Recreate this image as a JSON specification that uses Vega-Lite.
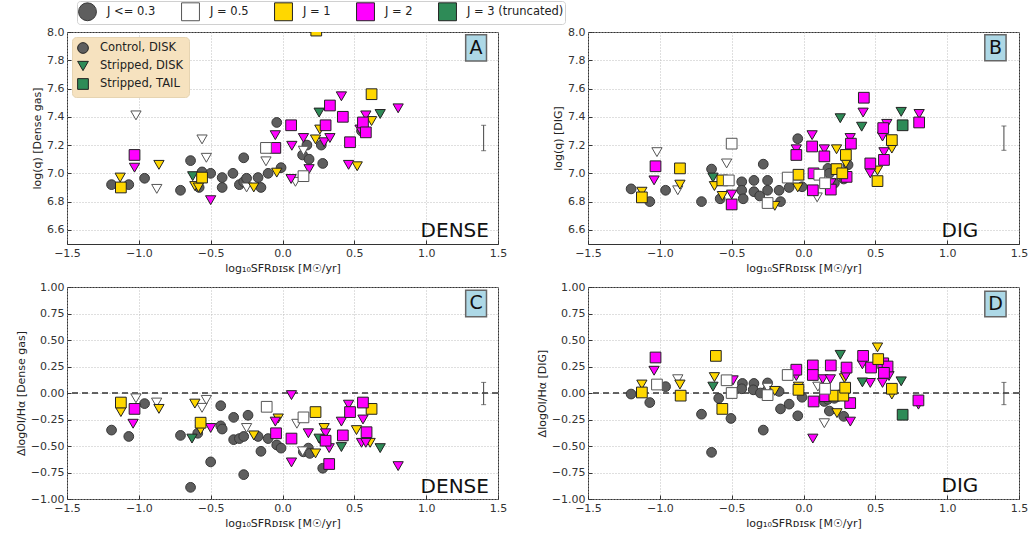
{
"$schema": "https://vega.github.io/schema/vega-lite/v6.json",
"padding": {"left": 14, "top": 0, "right": 5, "bottom": 2},
"datasets": {
"pts": [
{"p":"A","g":"c","j":0.3,"x":-1.19,"y":6.92},{"p":"A","g":"c","j":0.3,"x":-1.07,"y":6.92},{"p":"A","g":"c","j":0.3,"x":-0.96,"y":6.965},{"p":"A","g":"c","j":0.3,"x":-0.71,"y":6.88},{"p":"A","g":"c","j":0.3,"x":-0.64,"y":7.09},{"p":"A","g":"c","j":0.3,"x":-0.58,"y":6.9},{"p":"A","g":"c","j":0.3,"x":-0.56,"y":7.01},{"p":"A","g":"c","j":0.3,"x":-0.5,"y":7.0},{"p":"A","g":"c","j":0.3,"x":-0.42,"y":6.97},{"p":"A","g":"c","j":0.3,"x":-0.42,"y":6.9},{"p":"A","g":"c","j":0.3,"x":-0.345,"y":7.0},{"p":"A","g":"c","j":0.3,"x":-0.3,"y":6.92},{"p":"A","g":"c","j":0.3,"x":-0.27,"y":7.11},{"p":"A","g":"c","j":0.3,"x":-0.27,"y":6.94},{"p":"A","g":"c","j":0.3,"x":-0.25,"y":6.965},{"p":"A","g":"c","j":0.3,"x":-0.17,"y":6.97},{"p":"A","g":"c","j":0.3,"x":-0.15,"y":6.9},{"p":"A","g":"c","j":0.3,"x":-0.1,"y":7.0},{"p":"A","g":"c","j":0.3,"x":-0.04,"y":7.36},{"p":"A","g":"c","j":0.3,"x":-0.01,"y":7.04},{"p":"A","g":"c","j":0.3,"x":0.14,"y":7.13},{"p":"A","g":"c","j":0.3,"x":0.17,"y":7.2},{"p":"A","g":"c","j":0.3,"x":0.185,"y":7.1},{"p":"A","g":"c","j":0.3,"x":0.27,"y":7.2},{"p":"A","g":"c","j":0.3,"x":0.28,"y":7.07},{"p":"A","g":"c","j":0.3,"x":0.55,"y":7.3},
{"p":"A","g":"d","j":0.5,"x":-1.02,"y":7.41},{"p":"A","g":"d","j":0.5,"x":-0.875,"y":6.89},{"p":"A","g":"d","j":0.5,"x":-0.56,"y":7.24},{"p":"A","g":"d","j":0.5,"x":-0.53,"y":7.11},{"p":"A","g":"d","j":0.5,"x":-0.25,"y":6.9},{"p":"A","g":"d","j":0.5,"x":-0.115,"y":7.085},{"p":"A","g":"d","j":0.5,"x":0.09,"y":6.94},{"p":"A","g":"d","j":0.5,"x":0.146,"y":7.16},
{"p":"A","g":"d","j":1,"x":-1.13,"y":6.97},{"p":"A","g":"d","j":1,"x":-0.86,"y":7.06},{"p":"A","g":"d","j":1,"x":-0.61,"y":6.91},{"p":"A","g":"d","j":1,"x":-0.585,"y":6.9},{"p":"A","g":"d","j":1,"x":-0.2,"y":6.9},{"p":"A","g":"d","j":1,"x":-0.04,"y":7.005},{"p":"A","g":"d","j":1,"x":0.23,"y":7.24},{"p":"A","g":"d","j":1,"x":0.26,"y":7.31},{"p":"A","g":"d","j":1,"x":0.52,"y":7.05},{"p":"A","g":"d","j":1,"x":0.62,"y":7.37},
{"p":"A","g":"d","j":2,"x":-1.03,"y":7.04},{"p":"A","g":"d","j":2,"x":-0.5,"y":6.81},{"p":"A","g":"d","j":2,"x":-0.05,"y":7.27},{"p":"A","g":"d","j":2,"x":0.065,"y":7.195},{"p":"A","g":"d","j":2,"x":0.06,"y":6.96},{"p":"A","g":"d","j":2,"x":0.146,"y":7.25},{"p":"A","g":"d","j":2,"x":0.185,"y":7.03},{"p":"A","g":"d","j":2,"x":0.29,"y":7.22},{"p":"A","g":"d","j":2,"x":0.33,"y":7.25},{"p":"A","g":"d","j":2,"x":0.41,"y":7.545},{"p":"A","g":"d","j":2,"x":0.46,"y":7.06},{"p":"A","g":"d","j":2,"x":0.54,"y":7.31},{"p":"A","g":"d","j":2,"x":0.58,"y":7.41},{"p":"A","g":"d","j":2,"x":0.805,"y":7.46},
{"p":"A","g":"d","j":3,"x":-0.625,"y":6.98},{"p":"A","g":"d","j":3,"x":0.255,"y":7.43},{"p":"A","g":"d","j":3,"x":0.68,"y":7.42},
{"p":"A","g":"t","j":1,"x":-1.125,"y":6.9},{"p":"A","g":"t","j":1,"x":-0.56,"y":6.97},{"p":"A","g":"t","j":1,"x":0.235,"y":8.01},{"p":"A","g":"t","j":1,"x":0.62,"y":7.56},
{"p":"A","g":"t","j":2,"x":-1.03,"y":7.13},{"p":"A","g":"t","j":2,"x":-0.05,"y":7.18},{"p":"A","g":"t","j":2,"x":0.06,"y":7.34},{"p":"A","g":"t","j":2,"x":0.3,"y":7.34},{"p":"A","g":"t","j":2,"x":0.33,"y":7.48},{"p":"A","g":"t","j":2,"x":0.42,"y":7.4},{"p":"A","g":"t","j":2,"x":0.47,"y":7.22},{"p":"A","g":"t","j":2,"x":0.56,"y":7.36},{"p":"A","g":"t","j":2,"x":0.58,"y":7.29},
{"p":"A","g":"t","j":0.5,"x":-0.115,"y":7.18},{"p":"A","g":"t","j":0.5,"x":0.146,"y":6.98},

{"p":"B","g":"c","j":0.3,"x":-1.2,"y":6.89},{"p":"B","g":"c","j":0.3,"x":-1.07,"y":6.8},{"p":"B","g":"c","j":0.3,"x":-0.96,"y":6.88},{"p":"B","g":"c","j":0.3,"x":-0.71,"y":6.8},{"p":"B","g":"c","j":0.3,"x":-0.64,"y":7.03},{"p":"B","g":"c","j":0.3,"x":-0.58,"y":6.82},{"p":"B","g":"c","j":0.3,"x":-0.43,"y":6.94},{"p":"B","g":"c","j":0.3,"x":-0.43,"y":6.88},{"p":"B","g":"c","j":0.3,"x":-0.42,"y":6.82},{"p":"B","g":"c","j":0.3,"x":-0.345,"y":6.95},{"p":"B","g":"c","j":0.3,"x":-0.345,"y":6.87},{"p":"B","g":"c","j":0.3,"x":-0.28,"y":7.065},{"p":"B","g":"c","j":0.3,"x":-0.305,"y":6.84},{"p":"B","g":"c","j":0.3,"x":-0.25,"y":6.95},{"p":"B","g":"c","j":0.3,"x":-0.25,"y":6.88},{"p":"B","g":"c","j":0.3,"x":-0.17,"y":6.88},{"p":"B","g":"c","j":0.3,"x":-0.16,"y":6.8},{"p":"B","g":"c","j":0.3,"x":-0.1,"y":6.9},{"p":"B","g":"c","j":0.3,"x":-0.04,"y":7.245},{"p":"B","g":"c","j":0.3,"x":-0.01,"y":6.905},{"p":"B","g":"c","j":0.3,"x":0.17,"y":7.035},{"p":"B","g":"c","j":0.3,"x":0.18,"y":7.0},{"p":"B","g":"c","j":0.3,"x":0.215,"y":6.93},{"p":"B","g":"c","j":0.3,"x":0.28,"y":6.96},{"p":"B","g":"c","j":0.3,"x":0.31,"y":7.06},
{"p":"B","g":"d","j":0.5,"x":-1.02,"y":7.15},{"p":"B","g":"d","j":0.5,"x":-0.875,"y":6.88},{"p":"B","g":"d","j":0.5,"x":-0.535,"y":7.07},{"p":"B","g":"d","j":0.5,"x":0.095,"y":6.83},
{"p":"B","g":"d","j":1,"x":-1.125,"y":6.87},{"p":"B","g":"d","j":1,"x":-0.86,"y":6.92},{"p":"B","g":"d","j":1,"x":-0.62,"y":6.91},{"p":"B","g":"d","j":1,"x":-0.565,"y":6.84},{"p":"B","g":"d","j":1,"x":-0.2,"y":6.77},{"p":"B","g":"d","j":1,"x":-0.04,"y":6.9},{"p":"B","g":"d","j":1,"x":0.23,"y":7.17},{"p":"B","g":"d","j":1,"x":0.295,"y":7.07},{"p":"B","g":"d","j":1,"x":0.515,"y":7.02},{"p":"B","g":"d","j":1,"x":0.615,"y":7.175},
{"p":"B","g":"d","j":2,"x":-1.04,"y":6.95},{"p":"B","g":"d","j":2,"x":-0.5,"y":6.85},{"p":"B","g":"d","j":2,"x":-0.05,"y":7.17},{"p":"B","g":"d","j":2,"x":0.06,"y":7.27},{"p":"B","g":"d","j":2,"x":0.145,"y":7.17},{"p":"B","g":"d","j":2,"x":0.19,"y":6.93},{"p":"B","g":"d","j":2,"x":0.325,"y":7.25},{"p":"B","g":"d","j":2,"x":0.415,"y":7.43},{"p":"B","g":"d","j":2,"x":0.465,"y":7.0},{"p":"B","g":"d","j":2,"x":0.55,"y":7.26},{"p":"B","g":"d","j":2,"x":0.56,"y":7.15},{"p":"B","g":"d","j":2,"x":0.58,"y":7.35},{"p":"B","g":"d","j":2,"x":0.805,"y":7.42},
{"p":"B","g":"d","j":3,"x":-0.63,"y":6.97},{"p":"B","g":"d","j":3,"x":0.256,"y":7.39},{"p":"B","g":"d","j":3,"x":0.405,"y":7.33},{"p":"B","g":"d","j":3,"x":0.68,"y":7.435},
{"p":"B","g":"t","j":2,"x":-1.03,"y":7.05},{"p":"B","g":"t","j":2,"x":-0.5,"y":6.78},{"p":"B","g":"t","j":2,"x":-0.05,"y":7.13},{"p":"B","g":"t","j":2,"x":0.06,"y":7.19},{"p":"B","g":"t","j":2,"x":0.065,"y":6.88},{"p":"B","g":"t","j":2,"x":0.07,"y":7.0},{"p":"B","g":"t","j":2,"x":0.145,"y":7.12},{"p":"B","g":"t","j":2,"x":0.19,"y":6.885},{"p":"B","g":"t","j":2,"x":0.3,"y":6.975},{"p":"B","g":"t","j":2,"x":0.33,"y":7.21},{"p":"B","g":"t","j":2,"x":0.42,"y":7.535},{"p":"B","g":"t","j":2,"x":0.465,"y":7.07},{"p":"B","g":"t","j":2,"x":0.555,"y":7.32},{"p":"B","g":"t","j":2,"x":0.56,"y":7.095},{"p":"B","g":"t","j":2,"x":0.805,"y":7.36},
{"p":"B","g":"t","j":1,"x":-1.125,"y":6.83},{"p":"B","g":"t","j":1,"x":-0.86,"y":7.035},{"p":"B","g":"t","j":1,"x":-0.565,"y":6.95},{"p":"B","g":"t","j":1,"x":-0.035,"y":6.99},{"p":"B","g":"t","j":1,"x":0.23,"y":7.03},{"p":"B","g":"t","j":1,"x":0.27,"y":7.0},{"p":"B","g":"t","j":1,"x":0.295,"y":7.13},{"p":"B","g":"t","j":1,"x":0.515,"y":6.945},{"p":"B","g":"t","j":1,"x":0.615,"y":7.235},
{"p":"B","g":"t","j":0.5,"x":-0.5,"y":7.21},{"p":"B","g":"t","j":0.5,"x":-0.52,"y":6.95},{"p":"B","g":"t","j":0.5,"x":-0.25,"y":6.79},{"p":"B","g":"t","j":0.5,"x":-0.11,"y":6.97},{"p":"B","g":"t","j":0.5,"x":0.11,"y":6.99},{"p":"B","g":"t","j":0.5,"x":0.15,"y":6.93},
{"p":"B","g":"t","j":3,"x":0.69,"y":7.34},

{"p":"C","g":"c","j":0.3,"x":-1.19,"y":-0.35},{"p":"C","g":"c","j":0.3,"x":-1.07,"y":-0.41},{"p":"C","g":"c","j":0.3,"x":-0.96,"y":-0.1},{"p":"C","g":"c","j":0.3,"x":-0.71,"y":-0.4},{"p":"C","g":"c","j":0.3,"x":-0.64,"y":-0.89},{"p":"C","g":"c","j":0.3,"x":-0.59,"y":-0.38},{"p":"C","g":"c","j":0.3,"x":-0.5,"y":-0.65},{"p":"C","g":"c","j":0.3,"x":-0.43,"y":-0.12},{"p":"C","g":"c","j":0.3,"x":-0.43,"y":-0.31},{"p":"C","g":"c","j":0.3,"x":-0.42,"y":-0.34},{"p":"C","g":"c","j":0.3,"x":-0.34,"y":-0.23},{"p":"C","g":"c","j":0.3,"x":-0.34,"y":-0.44},{"p":"C","g":"c","j":0.3,"x":-0.3,"y":-0.43},{"p":"C","g":"c","j":0.3,"x":-0.27,"y":-0.77},{"p":"C","g":"c","j":0.3,"x":-0.27,"y":-0.41},{"p":"C","g":"c","j":0.3,"x":-0.24,"y":-0.21},{"p":"C","g":"c","j":0.3,"x":-0.17,"y":-0.41},{"p":"C","g":"c","j":0.3,"x":-0.15,"y":-0.55},{"p":"C","g":"c","j":0.3,"x":-0.1,"y":-0.43},{"p":"C","g":"c","j":0.3,"x":-0.04,"y":-0.49},{"p":"C","g":"c","j":0.3,"x":-0.01,"y":-0.52},{"p":"C","g":"c","j":0.3,"x":0.145,"y":-0.555},{"p":"C","g":"c","j":0.3,"x":0.18,"y":-0.52},{"p":"C","g":"c","j":0.3,"x":0.19,"y":-0.57},{"p":"C","g":"c","j":0.3,"x":0.28,"y":-0.71},{"p":"C","g":"c","j":0.3,"x":0.28,"y":-0.44},
{"p":"C","g":"d","j":0.5,"x":-1.02,"y":-0.05},{"p":"C","g":"d","j":0.5,"x":-0.876,"y":-0.09},{"p":"C","g":"d","j":0.5,"x":-0.53,"y":-0.065},{"p":"C","g":"d","j":0.5,"x":-0.56,"y":-0.14},{"p":"C","g":"d","j":0.5,"x":-0.25,"y":-0.33},{"p":"C","g":"d","j":0.5,"x":0.1,"y":-0.29},{"p":"C","g":"d","j":0.5,"x":0.14,"y":-0.55},
{"p":"C","g":"d","j":1,"x":-1.125,"y":-0.18},{"p":"C","g":"d","j":1,"x":-0.86,"y":-0.15},{"p":"C","g":"d","j":1,"x":-0.61,"y":-0.1},{"p":"C","g":"d","j":1,"x":-0.57,"y":-0.35},{"p":"C","g":"d","j":1,"x":-0.2,"y":-0.4},{"p":"C","g":"d","j":1,"x":-0.03,"y":-0.24},{"p":"C","g":"d","j":1,"x":0.29,"y":-0.33},{"p":"C","g":"d","j":1,"x":0.515,"y":-0.35},{"p":"C","g":"d","j":1,"x":0.61,"y":-0.47},{"p":"C","g":"d","j":1,"x":0.23,"y":-0.57},
{"p":"C","g":"d","j":2,"x":-1.04,"y":-0.29},{"p":"C","g":"d","j":2,"x":-0.5,"y":-0.33},{"p":"C","g":"d","j":2,"x":-0.05,"y":-0.27},{"p":"C","g":"d","j":2,"x":0.0625,"y":-0.02},{"p":"C","g":"d","j":2,"x":0.46,"y":-0.11},{"p":"C","g":"d","j":2,"x":0.41,"y":-0.27},{"p":"C","g":"d","j":2,"x":0.56,"y":-0.25},{"p":"C","g":"d","j":2,"x":0.18,"y":-0.38},{"p":"C","g":"d","j":2,"x":0.3,"y":-0.38},{"p":"C","g":"d","j":2,"x":0.55,"y":-0.47},{"p":"C","g":"d","j":2,"x":0.58,"y":-0.47},{"p":"C","g":"d","j":2,"x":0.325,"y":-0.52},{"p":"C","g":"d","j":2,"x":0.0625,"y":-0.655},{"p":"C","g":"d","j":2,"x":0.805,"y":-0.69},
{"p":"C","g":"d","j":3,"x":-0.63,"y":-0.43},{"p":"C","g":"d","j":3,"x":0.68,"y":-0.52},{"p":"C","g":"d","j":3,"x":0.41,"y":-0.51},{"p":"C","g":"d","j":3,"x":0.255,"y":-0.43},
{"p":"C","g":"t","j":1,"x":-1.125,"y":-0.09},{"p":"C","g":"t","j":1,"x":-0.57,"y":-0.28},{"p":"C","g":"t","j":1,"x":0.23,"y":-0.18},{"p":"C","g":"t","j":1,"x":0.62,"y":-0.15},
{"p":"C","g":"t","j":2,"x":-1.03,"y":-0.15},{"p":"C","g":"t","j":2,"x":-0.045,"y":-0.38},{"p":"C","g":"t","j":2,"x":0.0625,"y":-0.43},{"p":"C","g":"t","j":2,"x":0.47,"y":-0.18},{"p":"C","g":"t","j":2,"x":0.56,"y":-0.09},{"p":"C","g":"t","j":2,"x":0.42,"y":-0.4},{"p":"C","g":"t","j":2,"x":0.585,"y":-0.37},{"p":"C","g":"t","j":2,"x":0.3,"y":-0.45},{"p":"C","g":"t","j":2,"x":0.325,"y":-0.67},
{"p":"C","g":"t","j":0.5,"x":-0.11,"y":-0.13},{"p":"C","g":"t","j":0.5,"x":0.146,"y":-0.23},

{"p":"D","g":"c","j":0.3,"x":-1.2,"y":-0.01},{"p":"D","g":"c","j":0.3,"x":-1.07,"y":-0.09},{"p":"D","g":"c","j":0.3,"x":-0.96,"y":0.06},{"p":"D","g":"c","j":0.3,"x":-0.71,"y":-0.2},{"p":"D","g":"c","j":0.3,"x":-0.64,"y":-0.56},{"p":"D","g":"c","j":0.3,"x":-0.59,"y":-0.05},{"p":"D","g":"c","j":0.3,"x":-0.505,"y":-0.24},{"p":"D","g":"c","j":0.3,"x":-0.425,"y":0.09},{"p":"D","g":"c","j":0.3,"x":-0.43,"y":0.04},{"p":"D","g":"c","j":0.3,"x":-0.345,"y":0.09},{"p":"D","g":"c","j":0.3,"x":-0.35,"y":0.03},{"p":"D","g":"c","j":0.3,"x":-0.28,"y":-0.35},{"p":"D","g":"c","j":0.3,"x":-0.3,"y":0.0},{"p":"D","g":"c","j":0.3,"x":-0.25,"y":0.095},{"p":"D","g":"c","j":0.3,"x":-0.25,"y":0.03},{"p":"D","g":"c","j":0.3,"x":-0.17,"y":0.015},{"p":"D","g":"c","j":0.3,"x":-0.16,"y":-0.15},{"p":"D","g":"c","j":0.3,"x":-0.1,"y":-0.105},{"p":"D","g":"c","j":0.3,"x":-0.04,"y":-0.215},{"p":"D","g":"c","j":0.3,"x":-0.01,"y":-0.04},{"p":"D","g":"c","j":0.3,"x":0.145,"y":-0.08},{"p":"D","g":"c","j":0.3,"x":0.18,"y":-0.17},{"p":"D","g":"c","j":0.3,"x":0.17,"y":-0.06},{"p":"D","g":"c","j":0.3,"x":0.215,"y":-0.05},{"p":"D","g":"c","j":0.3,"x":0.28,"y":-0.22},{"p":"D","g":"c","j":0.3,"x":0.29,"y":0.02},
{"p":"D","g":"d","j":0.5,"x":-0.875,"y":0.13},{"p":"D","g":"d","j":0.5,"x":-0.25,"y":0.05},{"p":"D","g":"d","j":0.5,"x":-0.5,"y":0.11},{"p":"D","g":"d","j":0.5,"x":0.1,"y":0.06},{"p":"D","g":"d","j":0.5,"x":0.145,"y":-0.285},
{"p":"D","g":"d","j":1,"x":-1.125,"y":0.08},{"p":"D","g":"d","j":1,"x":-0.86,"y":0.08},{"p":"D","g":"d","j":1,"x":-0.62,"y":0.15},{"p":"D","g":"d","j":1,"x":-0.2,"y":0.02},{"p":"D","g":"d","j":1,"x":-0.035,"y":0.06},{"p":"D","g":"d","j":1,"x":0.233,"y":-0.19},{"p":"D","g":"d","j":1,"x":0.285,"y":0.14},{"p":"D","g":"d","j":1,"x":0.515,"y":0.43},{"p":"D","g":"d","j":1,"x":0.615,"y":-0.015},
{"p":"D","g":"d","j":2,"x":-1.04,"y":0.21},{"p":"D","g":"d","j":2,"x":-0.49,"y":0.12},{"p":"D","g":"d","j":2,"x":-0.05,"y":0.16},{"p":"D","g":"d","j":2,"x":0.065,"y":-0.43},{"p":"D","g":"d","j":2,"x":0.134,"y":0.13},{"p":"D","g":"d","j":2,"x":0.187,"y":0.13},{"p":"D","g":"d","j":2,"x":0.295,"y":0.16},{"p":"D","g":"d","j":2,"x":0.326,"y":-0.27},{"p":"D","g":"d","j":2,"x":0.41,"y":0.27},{"p":"D","g":"d","j":2,"x":0.465,"y":0.095},{"p":"D","g":"d","j":2,"x":0.55,"y":0.095},{"p":"D","g":"d","j":2,"x":0.595,"y":0.16},{"p":"D","g":"d","j":2,"x":0.8,"y":-0.11},
{"p":"D","g":"d","j":3,"x":-0.63,"y":0.06},{"p":"D","g":"d","j":3,"x":0.256,"y":0.36},{"p":"D","g":"d","j":3,"x":0.41,"y":0.1},{"p":"D","g":"d","j":3,"x":0.68,"y":0.11},
{"p":"D","g":"t","j":2,"x":-1.03,"y":0.335},{"p":"D","g":"t","j":2,"x":-0.05,"y":0.22},{"p":"D","g":"t","j":2,"x":0.065,"y":0.26},{"p":"D","g":"t","j":2,"x":0.065,"y":0.17},{"p":"D","g":"t","j":2,"x":0.07,"y":-0.08},{"p":"D","g":"t","j":2,"x":0.15,"y":-0.03},{"p":"D","g":"t","j":2,"x":0.19,"y":0.26},{"p":"D","g":"t","j":2,"x":0.3,"y":0.24},{"p":"D","g":"t","j":2,"x":0.325,"y":-0.095},{"p":"D","g":"t","j":2,"x":0.415,"y":0.35},{"p":"D","g":"t","j":2,"x":0.47,"y":0.24},{"p":"D","g":"t","j":2,"x":0.555,"y":0.28},{"p":"D","g":"t","j":2,"x":0.585,"y":0.25},{"p":"D","g":"t","j":2,"x":0.56,"y":0.19},{"p":"D","g":"t","j":2,"x":0.8,"y":-0.07},
{"p":"D","g":"t","j":1,"x":-1.125,"y":0.005},{"p":"D","g":"t","j":1,"x":-0.855,"y":-0.025},{"p":"D","g":"t","j":1,"x":-0.61,"y":0.35},{"p":"D","g":"t","j":1,"x":-0.565,"y":-0.15},{"p":"D","g":"t","j":1,"x":-0.035,"y":0.03},{"p":"D","g":"t","j":1,"x":0.215,"y":-0.025},{"p":"D","g":"t","j":1,"x":0.277,"y":-0.025},{"p":"D","g":"t","j":1,"x":0.29,"y":0.05},{"p":"D","g":"t","j":1,"x":0.52,"y":0.32},{"p":"D","g":"t","j":1,"x":0.615,"y":0.04},
{"p":"D","g":"t","j":0.5,"x":-1.02,"y":0.08},{"p":"D","g":"t","j":0.5,"x":-0.535,"y":0.12},{"p":"D","g":"t","j":0.5,"x":-0.5,"y":0.0},{"p":"D","g":"t","j":0.5,"x":-0.25,"y":-0.02},{"p":"D","g":"t","j":0.5,"x":-0.11,"y":0.17},{"p":"D","g":"t","j":0.5,"x":0.15,"y":0.04},
{"p":"D","g":"t","j":3,"x":0.69,"y":-0.205}
],
"err": [
{"p":"A","x":1.4,"lo":7.16,"hi":7.34},{"p":"B","x":1.395,"lo":7.163,"hi":7.335},{"p":"C","x":1.4,"lo":-0.11,"hi":0.1},{"p":"D","x":1.395,"lo":-0.11,"hi":0.1}
]
},
"columns": 2,
"spacing": {"row": 6, "column": 27},
"resolve": {"legend": {"shape": "independent"}},
"concat": [
{
"width": 431, "height": 212,
"layer": [
{"data": {"name": "pts"}, "transform": [{"filter": "datum.p == 'A'"}],
 "mark": {"type": "point", "filled": true, "opacity": 1, "strokeWidth": 1, "clip": true},
 "encoding": {
  "x": {"field": "x", "type": "quantitative", "scale": {"domain": [-1.5, 1.5], "nice": false}, "axis": {"values": [-1.5,-1,-0.5,0,0.5,1,1.5], "format": ".1f", "tickCount": 20}, "title": "log₁₀SFRᴅɪꜱᴋ [M☉/yr]"},
  "y": {"field": "y", "type": "quantitative", "scale": {"domain": [6.5, 8.0], "nice": false}, "axis": {"values": [6.6,6.8,7.0,7.2,7.4,7.6,7.8,8.0], "format": ".1f", "tickCount": 20}, "title": "log(q) [Dense gas]"},
  "shape": {"field": "g", "type": "nominal", "scale": {"domain": ["c","d","t"], "range": ["circle","triangle-down","square"]},
    "legend": {"orient": "top-left", "title": null, "offset": 5, "fillColor": "#f6e2bf", "strokeColor": "#e6d4b2", "cornerRadius": 4, "padding": 5, "rowPadding": 3, "symbolSize": 115, "labelOffset": 11, "labelFontSize": 11.5,
      "labelExpr": "datum.value == 'c' ? 'Control, DISK' : datum.value == 'd' ? 'Stripped, DISK' : 'Stripped, TAIL'",
      "encoding": {"symbols": {"fill": {"condition": {"test": "datum.value == 'c'", "value": "#5e5e5e"}, "value": "#2e8b57"}, "stroke": {"value": "#222222"}, "strokeWidth": {"value": 1}, "opacity": {"value": 1}}}}},
  "size": {"field": "g", "type": "nominal", "scale": {"domain": ["c","d","t"], "range": [95, 115, 165]}, "legend": null},
  "fill": {"field": "j", "type": "ordinal", "scale": {"domain": [0.3,0.5,1,2,3], "range": ["#5e5e5e","#ffffff","#ffd700","#ff00ff","#2e8b57"]},
    "legend": {"orient": "none", "legendX": 10, "legendY": -31, "direction": "horizontal", "title": null, "symbolType": "square", "symbolSize": 320, "labelFontSize": 11.5, "labelOffset": 10, "columnPadding": 23, "strokeColor": "#d0d0d0", "cornerRadius": 3, "padding": 1,
      "labelExpr": "datum.value == 0.3 ? 'J <= 0.3' : datum.value == 3 ? 'J = 3 (truncated)' : 'J = ' + datum.label",
      "encoding": {"symbols": {"shape": {"condition": {"test": "datum.value == 0.3", "value": "circle"}, "value": "square"}, "opacity": {"value": 1}}}}},
  "stroke": {"field": "j", "type": "ordinal", "scale": {"domain": [0.3,0.5,1,2,3], "range": ["#383838","#555555","#222222","#222222","#222222"]}}
 }},
{"data": {"name": "err"}, "transform": [{"filter": "datum.p == 'A'"}],
 "mark": {"type": "errorbar", "ticks": true, "color": "#444"},
 "encoding": {"x": {"field": "x", "type": "quantitative", "scale": {"domain": [-1.5, 1.5], "nice": false}, "title": "log₁₀SFRᴅɪꜱᴋ [M☉/yr]"}, "y": {"field": "lo", "type": "quantitative", "scale": {"domain": [6.5, 8.0], "nice": false}, "title": "log(q) [Dense gas]"}, "y2": {"field": "hi"}}},
{"data": {"values": [{}]},
 "mark": {"type": "rect", "fill": "#add8e6", "stroke": "#666", "strokeWidth": 1.5},
 "encoding": {"x": {"datum": 1.275, "type": "quantitative", "scale": {"domain": [-1.5, 1.5], "nice": false}}, "x2": {"datum": 1.42}, "y": {"datum": 7.98, "type": "quantitative", "scale": {"domain": [6.5, 8.0], "nice": false}}, "y2": {"datum": 7.795}}},
{"data": {"values": [{}]},
 "mark": {"type": "text", "text": "A", "fontSize": 19, "align": "center", "baseline": "middle", "color": "#111"},
 "encoding": {"x": {"datum": 1.347, "type": "quantitative", "scale": {"domain": [-1.5, 1.5], "nice": false}}, "y": {"datum": 7.885, "type": "quantitative", "scale": {"domain": [6.5, 8.0], "nice": false}}}},
{"data": {"values": [{}]},
 "mark": {"type": "text", "text": "DENSE", "fontSize": 20, "align": "right", "baseline": "alphabetic", "color": "#111"},
 "encoding": {"x": {"datum": 1.437, "type": "quantitative", "scale": {"domain": [-1.5, 1.5], "nice": false}}, "y": {"datum": 6.55, "type": "quantitative", "scale": {"domain": [6.5, 8.0], "nice": false}}}}
]
},
{
"width": 431, "height": 212,
"layer": [
{"data": {"name": "pts"}, "transform": [{"filter": "datum.p == 'B'"}],
 "mark": {"type": "point", "filled": true, "opacity": 1, "strokeWidth": 1, "clip": true},
 "encoding": {
  "x": {"field": "x", "type": "quantitative", "scale": {"domain": [-1.5, 1.5], "nice": false}, "axis": {"values": [-1.5,-1,-0.5,0,0.5,1,1.5], "format": ".1f", "tickCount": 20}, "title": "log₁₀SFRᴅɪꜱᴋ [M☉/yr]"},
  "y": {"field": "y", "type": "quantitative", "scale": {"domain": [6.5, 8.0], "nice": false}, "axis": {"values": [6.6,6.8,7.0,7.2,7.4,7.6,7.8,8.0], "format": ".1f", "tickCount": 20}, "title": "log(q) [DIG]"},
  "shape": {"field": "g", "type": "nominal", "scale": {"domain": ["c","d","t"], "range": ["circle","triangle-down","square"]}, "legend": null},
  "size": {"field": "g", "type": "nominal", "scale": {"domain": ["c","d","t"], "range": [95, 115, 165]}, "legend": null},
  "fill": {"field": "j", "type": "ordinal", "scale": {"domain": [0.3,0.5,1,2,3], "range": ["#5e5e5e","#ffffff","#ffd700","#ff00ff","#2e8b57"]}},
  "stroke": {"field": "j", "type": "ordinal", "scale": {"domain": [0.3,0.5,1,2,3], "range": ["#383838","#555555","#222222","#222222","#222222"]}}
 }},
{"data": {"name": "err"}, "transform": [{"filter": "datum.p == 'B'"}],
 "mark": {"type": "errorbar", "ticks": true, "color": "#444"},
 "encoding": {"x": {"field": "x", "type": "quantitative", "scale": {"domain": [-1.5, 1.5], "nice": false}, "title": "log₁₀SFRᴅɪꜱᴋ [M☉/yr]"}, "y": {"field": "lo", "type": "quantitative", "scale": {"domain": [6.5, 8.0], "nice": false}, "title": "log(q) [DIG]"}, "y2": {"field": "hi"}}},
{"data": {"values": [{}]},
 "mark": {"type": "rect", "fill": "#add8e6", "stroke": "#666", "strokeWidth": 1.5},
 "encoding": {"x": {"datum": 1.262, "type": "quantitative", "scale": {"domain": [-1.5, 1.5], "nice": false}}, "x2": {"datum": 1.41}, "y": {"datum": 7.98, "type": "quantitative", "scale": {"domain": [6.5, 8.0], "nice": false}}, "y2": {"datum": 7.797}}},
{"data": {"values": [{}]},
 "mark": {"type": "text", "text": "B", "fontSize": 19, "align": "center", "baseline": "middle", "color": "#111"},
 "encoding": {"x": {"datum": 1.336, "type": "quantitative", "scale": {"domain": [-1.5, 1.5], "nice": false}}, "y": {"datum": 7.887, "type": "quantitative", "scale": {"domain": [6.5, 8.0], "nice": false}}}},
{"data": {"values": [{}]},
 "mark": {"type": "text", "text": "DIG", "fontSize": 20, "align": "right", "baseline": "alphabetic", "color": "#111"},
 "encoding": {"x": {"datum": 1.217, "type": "quantitative", "scale": {"domain": [-1.5, 1.5], "nice": false}}, "y": {"datum": 6.55, "type": "quantitative", "scale": {"domain": [6.5, 8.0], "nice": false}}}}
]
},
{
"width": 431, "height": 212,
"layer": [
{"data": {"values": [{}]},
 "mark": {"type": "rule", "strokeDash": [6, 4], "color": "#333", "strokeWidth": 1.3},
 "encoding": {"y": {"datum": 0, "type": "quantitative", "scale": {"domain": [-1, 1], "nice": false}}}},
{"data": {"name": "pts"}, "transform": [{"filter": "datum.p == 'C'"}],
 "mark": {"type": "point", "filled": true, "opacity": 1, "strokeWidth": 1, "clip": true},
 "encoding": {
  "x": {"field": "x", "type": "quantitative", "scale": {"domain": [-1.5, 1.5], "nice": false}, "axis": {"values": [-1.5,-1,-0.5,0,0.5,1,1.5], "format": ".1f", "tickCount": 20}, "title": "log₁₀SFRᴅɪꜱᴋ [M☉/yr]"},
  "y": {"field": "y", "type": "quantitative", "scale": {"domain": [-1, 1], "nice": false}, "axis": {"values": [-1,-0.75,-0.5,-0.25,0,0.25,0.5,0.75,1], "format": ".2f", "tickCount": 20}, "title": "ΔlogOI/Hα [Dense gas]"},
  "shape": {"field": "g", "type": "nominal", "scale": {"domain": ["c","d","t"], "range": ["circle","triangle-down","square"]}, "legend": null},
  "size": {"field": "g", "type": "nominal", "scale": {"domain": ["c","d","t"], "range": [95, 115, 165]}, "legend": null},
  "fill": {"field": "j", "type": "ordinal", "scale": {"domain": [0.3,0.5,1,2,3], "range": ["#5e5e5e","#ffffff","#ffd700","#ff00ff","#2e8b57"]}},
  "stroke": {"field": "j", "type": "ordinal", "scale": {"domain": [0.3,0.5,1,2,3], "range": ["#383838","#555555","#222222","#222222","#222222"]}}
 }},
{"data": {"name": "err"}, "transform": [{"filter": "datum.p == 'C'"}],
 "mark": {"type": "errorbar", "ticks": true, "color": "#444"},
 "encoding": {"x": {"field": "x", "type": "quantitative", "scale": {"domain": [-1.5, 1.5], "nice": false}, "title": "log₁₀SFRᴅɪꜱᴋ [M☉/yr]"}, "y": {"field": "lo", "type": "quantitative", "scale": {"domain": [-1, 1], "nice": false}, "title": "ΔlogOI/Hα [Dense gas]"}, "y2": {"field": "hi"}}},
{"data": {"values": [{}]},
 "mark": {"type": "rect", "fill": "#add8e6", "stroke": "#666", "strokeWidth": 1.5},
 "encoding": {"x": {"datum": 1.275, "type": "quantitative", "scale": {"domain": [-1.5, 1.5], "nice": false}}, "x2": {"datum": 1.42}, "y": {"datum": 0.97, "type": "quantitative", "scale": {"domain": [-1, 1], "nice": false}}, "y2": {"datum": 0.72}}},
{"data": {"values": [{}]},
 "mark": {"type": "text", "text": "C", "fontSize": 19, "align": "center", "baseline": "middle", "color": "#111"},
 "encoding": {"x": {"datum": 1.347, "type": "quantitative", "scale": {"domain": [-1.5, 1.5], "nice": false}}, "y": {"datum": 0.845, "type": "quantitative", "scale": {"domain": [-1, 1], "nice": false}}}},
{"data": {"values": [{}]},
 "mark": {"type": "text", "text": "DENSE", "fontSize": 20, "align": "right", "baseline": "alphabetic", "color": "#111"},
 "encoding": {"x": {"datum": 1.437, "type": "quantitative", "scale": {"domain": [-1.5, 1.5], "nice": false}}, "y": {"datum": -0.943, "type": "quantitative", "scale": {"domain": [-1, 1], "nice": false}}}}
]
},
{
"width": 431, "height": 212,
"layer": [
{"data": {"values": [{}]},
 "mark": {"type": "rule", "strokeDash": [6, 4], "color": "#333", "strokeWidth": 1.3},
 "encoding": {"y": {"datum": 0, "type": "quantitative", "scale": {"domain": [-1, 1], "nice": false}}}},
{"data": {"name": "pts"}, "transform": [{"filter": "datum.p == 'D'"}],
 "mark": {"type": "point", "filled": true, "opacity": 1, "strokeWidth": 1, "clip": true},
 "encoding": {
  "x": {"field": "x", "type": "quantitative", "scale": {"domain": [-1.5, 1.5], "nice": false}, "axis": {"values": [-1.5,-1,-0.5,0,0.5,1,1.5], "format": ".1f", "tickCount": 20}, "title": "log₁₀SFRᴅɪꜱᴋ [M☉/yr]"},
  "y": {"field": "y", "type": "quantitative", "scale": {"domain": [-1, 1], "nice": false}, "axis": {"values": [-1,-0.75,-0.5,-0.25,0,0.25,0.5,0.75,1], "format": ".2f", "tickCount": 20}, "title": "ΔlogOI/Hα [DIG]"},
  "shape": {"field": "g", "type": "nominal", "scale": {"domain": ["c","d","t"], "range": ["circle","triangle-down","square"]}, "legend": null},
  "size": {"field": "g", "type": "nominal", "scale": {"domain": ["c","d","t"], "range": [95, 115, 165]}, "legend": null},
  "fill": {"field": "j", "type": "ordinal", "scale": {"domain": [0.3,0.5,1,2,3], "range": ["#5e5e5e","#ffffff","#ffd700","#ff00ff","#2e8b57"]}},
  "stroke": {"field": "j", "type": "ordinal", "scale": {"domain": [0.3,0.5,1,2,3], "range": ["#383838","#555555","#222222","#222222","#222222"]}}
 }},
{"data": {"name": "err"}, "transform": [{"filter": "datum.p == 'D'"}],
 "mark": {"type": "errorbar", "ticks": true, "color": "#444"},
 "encoding": {"x": {"field": "x", "type": "quantitative", "scale": {"domain": [-1.5, 1.5], "nice": false}, "title": "log₁₀SFRᴅɪꜱᴋ [M☉/yr]"}, "y": {"field": "lo", "type": "quantitative", "scale": {"domain": [-1, 1], "nice": false}, "title": "ΔlogOI/Hα [DIG]"}, "y2": {"field": "hi"}}},
{"data": {"values": [{}]},
 "mark": {"type": "rect", "fill": "#add8e6", "stroke": "#666", "strokeWidth": 1.5},
 "encoding": {"x": {"datum": 1.262, "type": "quantitative", "scale": {"domain": [-1.5, 1.5], "nice": false}}, "x2": {"datum": 1.41}, "y": {"datum": 0.96, "type": "quantitative", "scale": {"domain": [-1, 1], "nice": false}}, "y2": {"datum": 0.72}}},
{"data": {"values": [{}]},
 "mark": {"type": "text", "text": "D", "fontSize": 19, "align": "center", "baseline": "middle", "color": "#111"},
 "encoding": {"x": {"datum": 1.336, "type": "quantitative", "scale": {"domain": [-1.5, 1.5], "nice": false}}, "y": {"datum": 0.84, "type": "quantitative", "scale": {"domain": [-1, 1], "nice": false}}}},
{"data": {"values": [{}]},
 "mark": {"type": "text", "text": "DIG", "fontSize": 20, "align": "right", "baseline": "alphabetic", "color": "#111"},
 "encoding": {"x": {"datum": 1.217, "type": "quantitative", "scale": {"domain": [-1.5, 1.5], "nice": false}}, "y": {"datum": -0.934, "type": "quantitative", "scale": {"domain": [-1, 1], "nice": false}}}}
]
}
],
"config": {
 "font": "DejaVu Sans",
 "view": {"stroke": "#333", "strokeWidth": 1},
 "axis": {"grid": true, "gridColor": "#b8b8b8", "gridDash": [1, 2], "gridWidth": 0.9, "domain": false, "tickColor": "#333", "tickSize": -4, "labelPadding": 7, "labelFont": "DejaVu Sans", "labelFontSize": 11, "labelColor": "#333", "titleFont": "DejaVu Sans", "titleFontSize": 11, "titleFontWeight": "normal", "titleColor": "#222", "titlePadding": 4, "labelFlush": false, "labelOverlap": false},
 "legend": {"labelFont": "DejaVu Sans", "labelColor": "#222", "symbolStrokeWidth": 1}
}
}
